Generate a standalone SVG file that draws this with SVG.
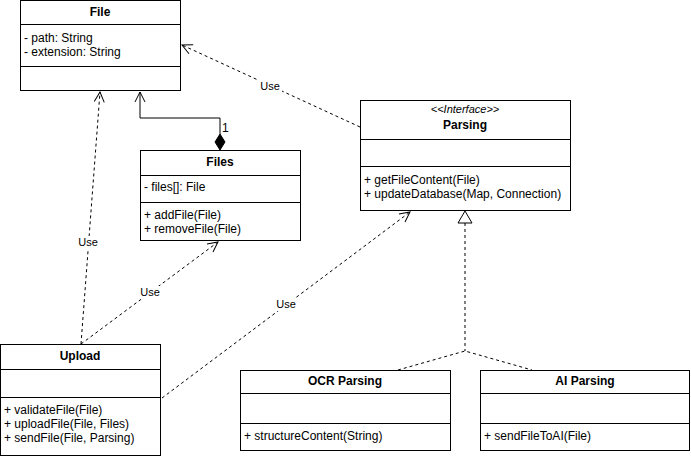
<svg xmlns="http://www.w3.org/2000/svg" width="691" height="456" viewBox="0 0 691 456">
<defs>
<style>
.box{fill:#fff;stroke:#000;stroke-width:1}
.sep{stroke:#000;stroke-width:1}
text{font-family:"Liberation Sans",Arial,sans-serif;font-size:12px;fill:#000}
.t{font-weight:bold;font-size:12px;text-anchor:middle}
.st{font-style:italic;font-size:11px;text-anchor:middle}
.lbl{text-anchor:middle;font-size:11px}
.dash{fill:none;stroke:#000;stroke-width:1;stroke-dasharray:3,3}
.solid{fill:none;stroke:#000;stroke-width:1}
</style>
<marker id="open" viewBox="0 0 12 12" refX="11" refY="6" markerWidth="12" markerHeight="12" markerUnits="userSpaceOnUse" orient="auto">
<path d="M1,1 L11,6 L1,11" fill="none" stroke="#000" stroke-width="1"/>
</marker>
</defs>
<rect width="691" height="456" fill="#fff"/>
<g id="connectors">
<path class="solid" d="M220,134 V118 H140 V92" marker-end="url(#open)"/>
<path d="M220,134 L225,142 L220,150 L215,142 Z" fill="#000" stroke="#000"/>
<text x="222" y="132">1</text>
<line class="dash" x1="360" y1="127" x2="182" y2="45" marker-end="url(#open)"/>
<rect x="258" y="79" width="24" height="13" fill="#fff"/>
<text class="lbl" x="270" y="90">Use</text>
<line class="dash" x1="81" y1="344" x2="100" y2="92" marker-end="url(#open)"/>
<rect x="76" y="236" width="24" height="13" fill="#fff"/>
<text class="lbl" x="88" y="246">Use</text>
<line class="dash" x1="81" y1="344" x2="218" y2="242" marker-end="url(#open)"/>
<rect x="138" y="286" width="24" height="13" fill="#fff"/>
<text class="lbl" x="150" y="296">Use</text>
<line class="dash" x1="162" y1="398" x2="410" y2="212" marker-end="url(#open)"/>
<rect x="274" y="298" width="24" height="13" fill="#fff"/>
<text class="lbl" x="286" y="308">Use</text>
<path class="dash" d="M465,223 V351"/>
<path class="dash" d="M398,370 L465,351 L532,370"/>
<path d="M465,211 L472,223 L458,223 Z" fill="#fff" stroke="#000"/>
</g>
<g id="File">
<rect class="box" x="20.5" y="0.5" width="160" height="90"/>
<line class="sep" x1="20.5" y1="24.5" x2="180.5" y2="24.5"/>
<line class="sep" x1="20.5" y1="66.5" x2="180.5" y2="66.5"/>
<text class="t" x="100" y="16">File</text>
<text x="24" y="42">- path: String</text>
<text x="24" y="56">- extension: String</text>
</g>
<g id="Files">
<rect class="box" x="140.5" y="150.5" width="160" height="90"/>
<line class="sep" x1="140.5" y1="175.5" x2="300.5" y2="175.5"/>
<line class="sep" x1="140.5" y1="202.5" x2="300.5" y2="202.5"/>
<text class="t" x="220" y="166">Files</text>
<text x="144" y="191">- files[]: File</text>
<text x="144" y="219">+ addFile(File)</text>
<text x="144" y="233">+ removeFile(File)</text>
</g>
<g id="Parsing">
<rect class="box" x="360.5" y="100.5" width="210" height="110"/>
<line class="sep" x1="360.5" y1="139.5" x2="570.5" y2="139.5"/>
<line class="sep" x1="360.5" y1="166.5" x2="570.5" y2="166.5"/>
<text class="st" x="465" y="113">&lt;&lt;Interface&gt;&gt;</text>
<text class="t" x="465" y="129">Parsing</text>
<text x="364" y="184">+ getFileContent(File)</text>
<text x="364" y="198">+ updateDatabase(Map, Connection)</text>
</g>
<g id="Upload">
<rect class="box" x="0.5" y="344.5" width="160" height="111"/>
<line class="sep" x1="0.5" y1="369.5" x2="160.5" y2="369.5"/>
<line class="sep" x1="0.5" y1="397.5" x2="160.5" y2="397.5"/>
<text class="t" x="80" y="360">Upload</text>
<text x="4" y="414">+ validateFile(File)</text>
<text x="4" y="428">+ uploadFile(File, Files)</text>
<text x="4" y="442">+ sendFile(File, Parsing)</text>
</g>
<g id="OCRParsing">
<rect class="box" x="240.5" y="370.5" width="210" height="80"/>
<line class="sep" x1="240.5" y1="393.5" x2="450.5" y2="393.5"/>
<line class="sep" x1="240.5" y1="423.5" x2="450.5" y2="423.5"/>
<text class="t" x="345" y="385">OCR Parsing</text>
<text x="244" y="440">+ structureContent(String)</text>
</g>
<g id="AIParsing">
<rect class="box" x="480.5" y="370.5" width="209" height="80"/>
<line class="sep" x1="480.5" y1="393.5" x2="689.5" y2="393.5"/>
<line class="sep" x1="480.5" y1="423.5" x2="689.5" y2="423.5"/>
<text class="t" x="585" y="385">AI Parsing</text>
<text x="484" y="440">+ sendFileToAI(File)</text>
</g>
</svg>
